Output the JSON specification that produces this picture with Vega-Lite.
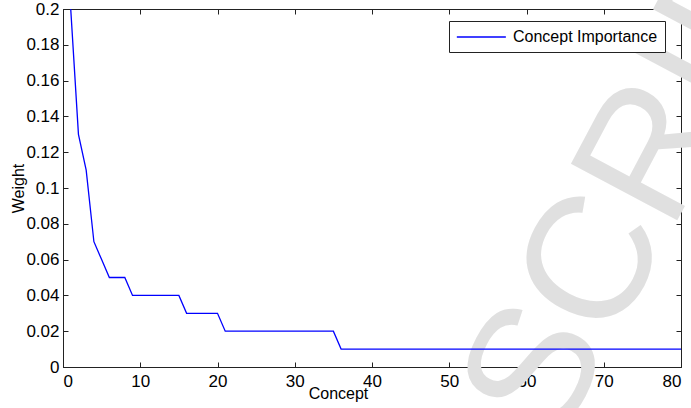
{
  "$schema": "https://vega.github.io/schema/vega-lite/v6.json",
  "width": 618,
  "height": 358,
  "autosize": {"type": "none"},
  "padding": {"left": 63, "top": 9, "right": 10, "bottom": 41},
  "background": "white",
  "config": {
    "font": "Liberation Sans",
    "view": {"stroke": "#222222", "strokeWidth": 1},
    "axis": {
      "grid": false,
      "domainColor": "#222222",
      "tickColor": "#222222",
      "tickWidth": 1,
      "labelColor": "black",
      "labelFont": "Liberation Sans",
      "labelFontSize": 17,
      "titleColor": "black",
      "titleFont": "Liberation Sans",
      "titleFontSize": 16,
      "titleFontWeight": "normal"
    }
  },
  "data": {
    "values": [
      {"concept": 1, "weight": 0.2},
      {"concept": 2, "weight": 0.13},
      {"concept": 3, "weight": 0.11},
      {"concept": 4, "weight": 0.07},
      {"concept": 5, "weight": 0.06},
      {"concept": 6, "weight": 0.05},
      {"concept": 7, "weight": 0.05},
      {"concept": 8, "weight": 0.05},
      {"concept": 9, "weight": 0.04},
      {"concept": 10, "weight": 0.04},
      {"concept": 11, "weight": 0.04},
      {"concept": 12, "weight": 0.04},
      {"concept": 13, "weight": 0.04},
      {"concept": 14, "weight": 0.04},
      {"concept": 15, "weight": 0.04},
      {"concept": 16, "weight": 0.03},
      {"concept": 17, "weight": 0.03},
      {"concept": 18, "weight": 0.03},
      {"concept": 19, "weight": 0.03},
      {"concept": 20, "weight": 0.03},
      {"concept": 21, "weight": 0.02},
      {"concept": 22, "weight": 0.02},
      {"concept": 23, "weight": 0.02},
      {"concept": 24, "weight": 0.02},
      {"concept": 25, "weight": 0.02},
      {"concept": 26, "weight": 0.02},
      {"concept": 27, "weight": 0.02},
      {"concept": 28, "weight": 0.02},
      {"concept": 29, "weight": 0.02},
      {"concept": 30, "weight": 0.02},
      {"concept": 31, "weight": 0.02},
      {"concept": 32, "weight": 0.02},
      {"concept": 33, "weight": 0.02},
      {"concept": 34, "weight": 0.02},
      {"concept": 35, "weight": 0.02},
      {"concept": 36, "weight": 0.01},
      {"concept": 37, "weight": 0.01},
      {"concept": 38, "weight": 0.01},
      {"concept": 39, "weight": 0.01},
      {"concept": 40, "weight": 0.01},
      {"concept": 41, "weight": 0.01},
      {"concept": 42, "weight": 0.01},
      {"concept": 43, "weight": 0.01},
      {"concept": 44, "weight": 0.01},
      {"concept": 45, "weight": 0.01},
      {"concept": 46, "weight": 0.01},
      {"concept": 47, "weight": 0.01},
      {"concept": 48, "weight": 0.01},
      {"concept": 49, "weight": 0.01},
      {"concept": 50, "weight": 0.01},
      {"concept": 51, "weight": 0.01},
      {"concept": 52, "weight": 0.01},
      {"concept": 53, "weight": 0.01},
      {"concept": 54, "weight": 0.01},
      {"concept": 55, "weight": 0.01},
      {"concept": 56, "weight": 0.01},
      {"concept": 57, "weight": 0.01},
      {"concept": 58, "weight": 0.01},
      {"concept": 59, "weight": 0.01},
      {"concept": 60, "weight": 0.01},
      {"concept": 61, "weight": 0.01},
      {"concept": 62, "weight": 0.01},
      {"concept": 63, "weight": 0.01},
      {"concept": 64, "weight": 0.01},
      {"concept": 65, "weight": 0.01},
      {"concept": 66, "weight": 0.01},
      {"concept": 67, "weight": 0.01},
      {"concept": 68, "weight": 0.01},
      {"concept": 69, "weight": 0.01},
      {"concept": 70, "weight": 0.01},
      {"concept": 71, "weight": 0.01},
      {"concept": 72, "weight": 0.01},
      {"concept": 73, "weight": 0.01},
      {"concept": 74, "weight": 0.01},
      {"concept": 75, "weight": 0.01},
      {"concept": 76, "weight": 0.01},
      {"concept": 77, "weight": 0.01},
      {"concept": 78, "weight": 0.01},
      {"concept": 79, "weight": 0.01},
      {"concept": 80, "weight": 0.01}
    ]
  },
  "layer": [
    {
      "data": {"values": [{"label": "SCRIPT"}]},
      "mark": {
        "type": "text",
        "angle": -62,
        "fontSize": 175,
        "font": "Liberation Sans",
        "align": "left",
        "baseline": "middle",
        "color": "#e0e0e0"
      },
      "encoding": {
        "text": {"field": "label"},
        "x": {"datum": 57.8, "type": "quantitative", "axis": null},
        "y": {"datum": -0.0312, "type": "quantitative", "axis": null}
      }
    },
    {
      "mark": {"type": "line", "strokeWidth": 1.3, "clip": true},
      "encoding": {
        "x": {
          "field": "concept",
          "type": "quantitative",
          "scale": {"domain": [0, 80], "nice": false, "zero": false},
          "axis": {
            "orient": "bottom",
            "values": [0, 10, 20, 30, 40, 50, 60, 70, 80],
            "tickSize": -5,
            "labelPadding": 11,
            "title": "Concept",
            "titleX": 275,
            "titleY": 31,
            "titleBaseline": "alphabetic"
          }
        },
        "y": {
          "field": "weight",
          "type": "quantitative",
          "scale": {"domain": [0, 0.2], "nice": false},
          "axis": {
            "orient": "left",
            "values": [0, 0.02, 0.04, 0.06, 0.08, 0.1, 0.12, 0.14, 0.16, 0.18, 0.2],
            "format": "~g",
            "tickSize": -5,
            "labelPadding": 9,
            "title": "Weight",
            "titlePadding": -1
          }
        },
        "color": {
          "datum": "Concept Importance",
          "scale": {"range": ["#0000ff"]},
          "legend": {
            "title": null,
            "orient": "none",
            "legendX": 386,
            "legendY": 12,
            "strokeColor": "#222222",
            "fillColor": "white",
            "padding": 7,
            "symbolType": "M-1,0L5,0",
            "symbolSize": 267,
            "symbolStrokeWidth": 1.3,
            "labelFont": "Liberation Sans",
            "labelFontSize": 16,
            "labelColor": "black",
            "labelOffset": 39
          }
        }
      }
    },
    {
      "mark": {"type": "line", "opacity": 0},
      "encoding": {
        "x": {
          "field": "concept",
          "type": "quantitative",
          "axis": {
            "orient": "top",
            "values": [0, 10, 20, 30, 40, 50, 60, 70, 80],
            "tickSize": -5,
            "labels": false,
            "domain": false,
            "title": null
          }
        },
        "y": {
          "field": "weight",
          "type": "quantitative",
          "axis": {
            "orient": "right",
            "values": [0, 0.02, 0.04, 0.06, 0.08, 0.1, 0.12, 0.14, 0.16, 0.18, 0.2],
            "tickSize": -5,
            "labels": false,
            "domain": false,
            "title": null
          }
        }
      }
    }
  ],
  "resolve": {"axis": {"x": "independent", "y": "independent"}}
}
